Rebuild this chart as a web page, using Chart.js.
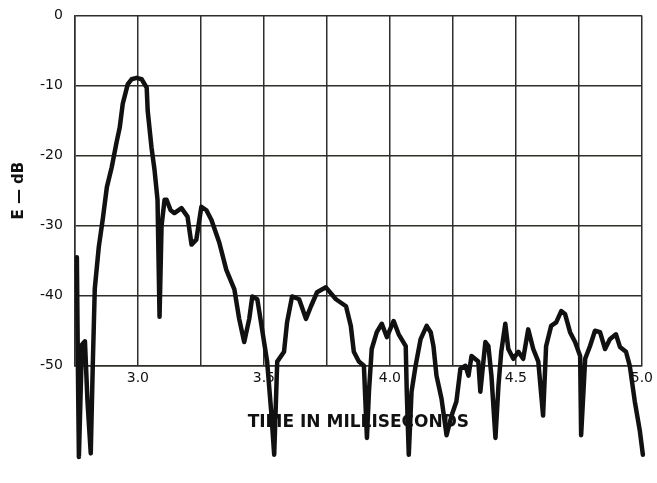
<!DOCTYPE html>
<html>
<head>
<meta charset="utf-8">
<title>E - dB vs time</title>
<script src="https://cdn.jsdelivr.net/npm/chart.js@4/dist/chart.umd.min.js"></script>
<style>
    html, body {
        margin: 0;
        padding: 0;
        background: #ffffff;
    }
    #wrap {
        width: 657px;
        height: 483px;
    }
</style>
</head>
<body>
<div id="wrap"><canvas id="echoChart" width="657" height="483"></canvas></div>
<script>
/* =====================================
   DATA
===================================== */

// time in milliseconds
const timeMs = [
    2.758, 2.762, 2.766, 2.778, 2.790, 2.800, 2.813, 2.821, 2.829, 2.845,
    2.861, 2.877, 2.896, 2.916, 2.928, 2.940, 2.960, 2.975, 2.995, 3.015,
    3.035, 3.039, 3.054, 3.066, 3.078, 3.086, 3.094, 3.106, 3.114, 3.130,
    3.145, 3.173, 3.197, 3.213, 3.232, 3.252, 3.272, 3.292, 3.323, 3.351,
    3.383, 3.402, 3.422, 3.442, 3.454, 3.474, 3.493, 3.513, 3.529, 3.541,
    3.553, 3.580, 3.592, 3.612, 3.640, 3.667, 3.687, 3.711, 3.746, 3.786,
    3.826, 3.845, 3.857, 3.877, 3.897, 3.909, 3.917, 3.928, 3.948, 3.968,
    3.988, 4.015, 4.035, 4.063, 4.067, 4.075, 4.086, 4.102, 4.122, 4.146,
    4.162, 4.173, 4.185, 4.205, 4.225, 4.245, 4.264, 4.280, 4.300, 4.312,
    4.324, 4.351, 4.359, 4.379, 4.391, 4.403, 4.419, 4.431, 4.442, 4.458,
    4.470, 4.490, 4.510, 4.529, 4.549, 4.569, 4.589, 4.608, 4.620, 4.640,
    4.660, 4.680, 4.695, 4.715, 4.735, 4.755, 4.759, 4.775, 4.794, 4.814,
    4.834, 4.854, 4.873, 4.897, 4.913, 4.937, 4.952, 4.972, 4.992, 5.004
];

// level E in dB
const levelDb = [
    -34.5, -50.0, -63.0, -47.0, -46.5, -55.0, -62.5, -50.0, -39.0, -33.0,
    -29.0, -24.5, -21.7, -18.0, -16.0, -12.6, -9.8, -9.1, -8.9, -9.1,
    -10.3, -13.6, -18.8, -22.0, -26.3, -43.0, -30.0, -26.3, -26.3, -27.8,
    -28.2, -27.5, -28.7, -32.7, -32.0, -27.3, -27.8, -29.2, -32.4, -36.3,
    -39.1, -43.3, -46.6, -43.3, -40.1, -40.5, -44.8, -49.4, -56.5, -62.7,
    -49.4, -48.0, -43.8, -40.1, -40.5, -43.3, -41.5, -39.5, -38.8, -40.5,
    -41.5, -44.3, -48.0, -49.4, -50.0, -60.3, -53.7, -47.6, -45.2, -44.0,
    -45.9, -43.6, -45.5, -47.2, -53.7, -62.7, -53.7, -50.0, -46.2, -44.3,
    -45.2, -47.2, -51.4, -54.7, -59.9, -57.1, -55.1, -50.4, -50.0, -51.4,
    -48.6, -49.4, -53.7, -46.6, -47.2, -51.4, -60.3, -52.8, -48.0, -44.0,
    -47.6, -49.0, -48.0, -49.0, -44.8, -47.6, -49.4, -57.1, -47.2, -44.3,
    -43.8, -42.2, -42.6, -45.2, -46.6, -48.6, -59.9, -49.0, -47.2, -45.0,
    -45.2, -47.6, -46.2, -45.5, -47.3, -48.0, -50.0, -55.1, -59.3, -62.7
];

// axis ranges and tick steps
const timeRange = [2.75, 5.0];
const timeStep = 0.25;
const timeLabelEvery = 0.5;

const dbRange = [-50, 0];
const dbStep = 10;

const xTitle = "TIME IN MILLISECONDS";
const yTitle = "E \u2014 dB";

/* =====================================
   CHART
===================================== */

const points = timeMs.map((t, i) => ({ x: t, y: levelDb[i] }));

const gridColor = "#2f2f2a";
const inkColor = "#111111";
const fontFamily = "'DejaVu Sans', sans-serif";

const ctx = document.getElementById("echoChart").getContext("2d");

new Chart(ctx, {
    type: "line",
    data: {
        datasets: [{
            data: points,
            borderColor: inkColor,
            borderWidth: 4.5,
            borderJoinStyle: "round",
            borderCapStyle: "round",
            pointRadius: 0,
            tension: 0,
            fill: false,
            clip: false
        }]
    },
    options: {
        responsive: false,
        animation: false,
        layout: {
            padding: { top: 0, right: 0, bottom: 50, left: 10 }
        },
        plugins: {
            legend: { display: false },
            tooltip: { enabled: false }
        },
        scales: {
            x: {
                type: "linear",
                min: timeRange[0],
                max: timeRange[1],
                grid: {
                    color: gridColor,
                    lineWidth: 1.5,
                    drawTicks: false
                },
                border: { color: gridColor, width: 1.5 },
                ticks: {
                    stepSize: timeStep,
                    autoSkip: false,
                    maxRotation: 0,
                    padding: 4,
                    color: inkColor,
                    font: { family: fontFamily, size: 14 },
                    callback: (v) => {
                        const r = v / timeLabelEvery;
                        return Math.abs(r - Math.round(r)) < 1e-6 ? Number(v).toFixed(1) : "";
                    }
                },
                title: {
                    display: true,
                    text: xTitle,
                    color: inkColor,
                    font: { family: fontFamily, size: 17, weight: "bold" },
                    padding: { top: 22, bottom: 0 }
                }
            },
            y: {
                min: dbRange[0],
                max: dbRange[1],
                grid: {
                    color: gridColor,
                    lineWidth: 1.5,
                    drawTicks: false
                },
                border: { color: gridColor, width: 1.5 },
                ticks: {
                    stepSize: dbStep,
                    padding: 12,
                    color: inkColor,
                    font: { family: fontFamily, size: 14, lineHeight: 0.5 }
                },
                title: {
                    display: true,
                    text: yTitle,
                    color: inkColor,
                    font: { family: fontFamily, size: 15, weight: "bold" },
                    padding: { top: 0, bottom: 0 }
                }
            }
        }
    }
});
</script>
</body>
</html>
